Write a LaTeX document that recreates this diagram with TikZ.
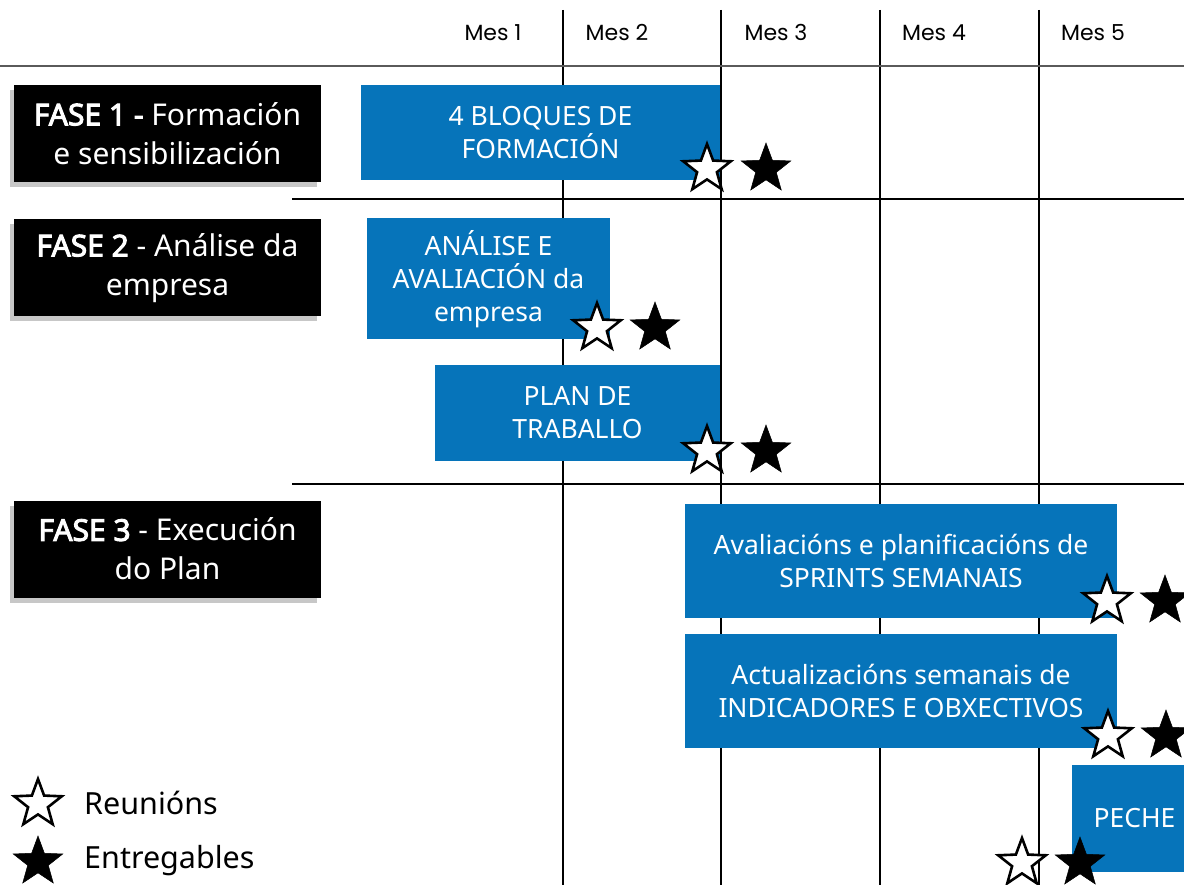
\documentclass[tikz,border=0pt]{standalone}
\usepackage{fontspec}
\setmainfont{Noto Sans}[AutoFakeBold=3.2]
\newfontfamily\monthfont{Poppins}
\usetikzlibrary{shapes.geometric,shadows}
\definecolor{barblue}{RGB}{6,116,186}
\definecolor{headgray}{RGB}{90,90,90}
\tikzset{
  gridline/.style={black, line width=1.3pt},
  headline/.style={headgray, line width=2.2pt},
  month/.style={font=\monthfont\fontsize{22}{26}\selectfont, anchor=base},
  phasebox/.style={fill=black, text=white, minimum width=307pt, minimum height=97pt,
    inner sep=0pt, align=center, font=\fontsize{30}{39}\selectfont,
    drop shadow={shadow xshift=-4pt, shadow yshift=-5pt, fill=black, opacity=0.22}},
  bluebar/.style={fill=barblue, text=white, inner sep=0pt, align=center,
    font=\fontsize{26.5}{33}\selectfont},
  openstar/.style={star, star points=5, star point ratio=2.4, minimum size=50pt,
    inner sep=0pt, draw=black, line width=2.6pt, fill=white},
  fullstar/.style={star, star points=5, star point ratio=2.4, minimum size=52pt,
    inner sep=0pt, draw=black, line width=0.5pt, fill=black},
  legendtext/.style={anchor=west, font=\fontsize{30.5}{34}\selectfont, inner sep=0pt}
}
\begin{document}
\begin{tikzpicture}[x=1pt, y=-1pt]
\useasboundingbox (0,0) rectangle (1184,885);
\fill[white] (0,0) rectangle (1184,885);

% grid
\coordinate (h0l) at (0,66);    \coordinate (h0r) at (1184,66);
\coordinate (h1l) at (292,199); \coordinate (h1r) at (1184,199);
\coordinate (h2l) at (292,484); \coordinate (h2r) at (1184,484);
\coordinate (v1t) at (563,10);  \coordinate (v1b) at (563,885);
\coordinate (v2t) at (721,10);  \coordinate (v2b) at (721,885);
\coordinate (v3t) at (880,10);  \coordinate (v3b) at (880,885);
\coordinate (v4t) at (1039,10); \coordinate (v4b) at (1039,885);
\draw[gridline] (v1t) -- (v1b);
\draw[gridline] (v2t) -- (v2b);
\draw[gridline] (v3t) -- (v3b);
\draw[gridline] (v4t) -- (v4b);
\draw[gridline] (h1l) -- (h1r);
\draw[gridline] (h2l) -- (h2r);
\draw[headline] (h0l) -- (h0r);

% months
\node[month] (m1) at (493,41) {Mes 1};
\node[month] (m2) at (617,41) {Mes 2};
\node[month] (m3) at (776,41) {Mes 3};
\node[month] (m4) at (934,41) {Mes 4};
\node[month] (m5) at (1093,41) {Mes 5};

% phases
\node[phasebox] (f1) at (167.5,133.5) {\textbf{FASE 1 -} Formación\\e sensibilización};
\node[phasebox] (f2) at (167.5,268) {\textbf{FASE 2} - Análise da\\empresa};
\node[phasebox] (f3) at (167.5,549) {\textbf{FASE 3} - Execución\\do Plan};

% bars
\node[bluebar, minimum width=359pt, minimum height=95pt] (b1) at (540.5,132.5) {4 BLOQUES DE\\FORMACIÓN};
\node[bluebar, minimum width=243pt, minimum height=121pt] (b2) at (488.5,279) {ANÁLISE E\\AVALIACIÓN da\\empresa};
\node[bluebar, minimum width=285pt, minimum height=96pt] (b3) at (577.5,413) {PLAN DE\\TRABALLO};
\node[bluebar, minimum width=432pt, minimum height=114pt] (b4) at (901,561) {Avaliacións e planificacións de\\SPRINTS SEMANAIS};
\node[bluebar, minimum width=432pt, minimum height=114pt] (b5) at (901,691) {Actualizacións semanais de\\INDICADORES E OBXECTIVOS};
\node[bluebar, minimum width=125pt, minimum height=107pt] (b6) at (1134.5,818.5) {PECHE};

% stars
\node[openstar] (r1) at (707,169) {};
\node[fullstar] (e1) at (766,169) {};
\node[openstar] (r2) at (597,328) {};
\node[fullstar] (e2) at (655,328) {};
\node[openstar] (r3) at (707,451) {};
\node[fullstar] (e3) at (766,451) {};
\node[openstar] (r4) at (1107,601) {};
\node[fullstar] (e4) at (1165,601) {};
\node[openstar] (r5) at (1108,736) {};
\node[fullstar] (e5) at (1166,736) {};
\node[openstar] (r6) at (1022,863) {};
\node[fullstar] (e6) at (1080,863) {};

% legend
\node[openstar] (lr) at (38,804) {};
\node[fullstar] (le) at (38,862) {};
\node[legendtext] (lrt) at (84,803) {Reunións};
\node[legendtext] (let) at (84,861) {Entregables};
\end{tikzpicture}
\end{document}
